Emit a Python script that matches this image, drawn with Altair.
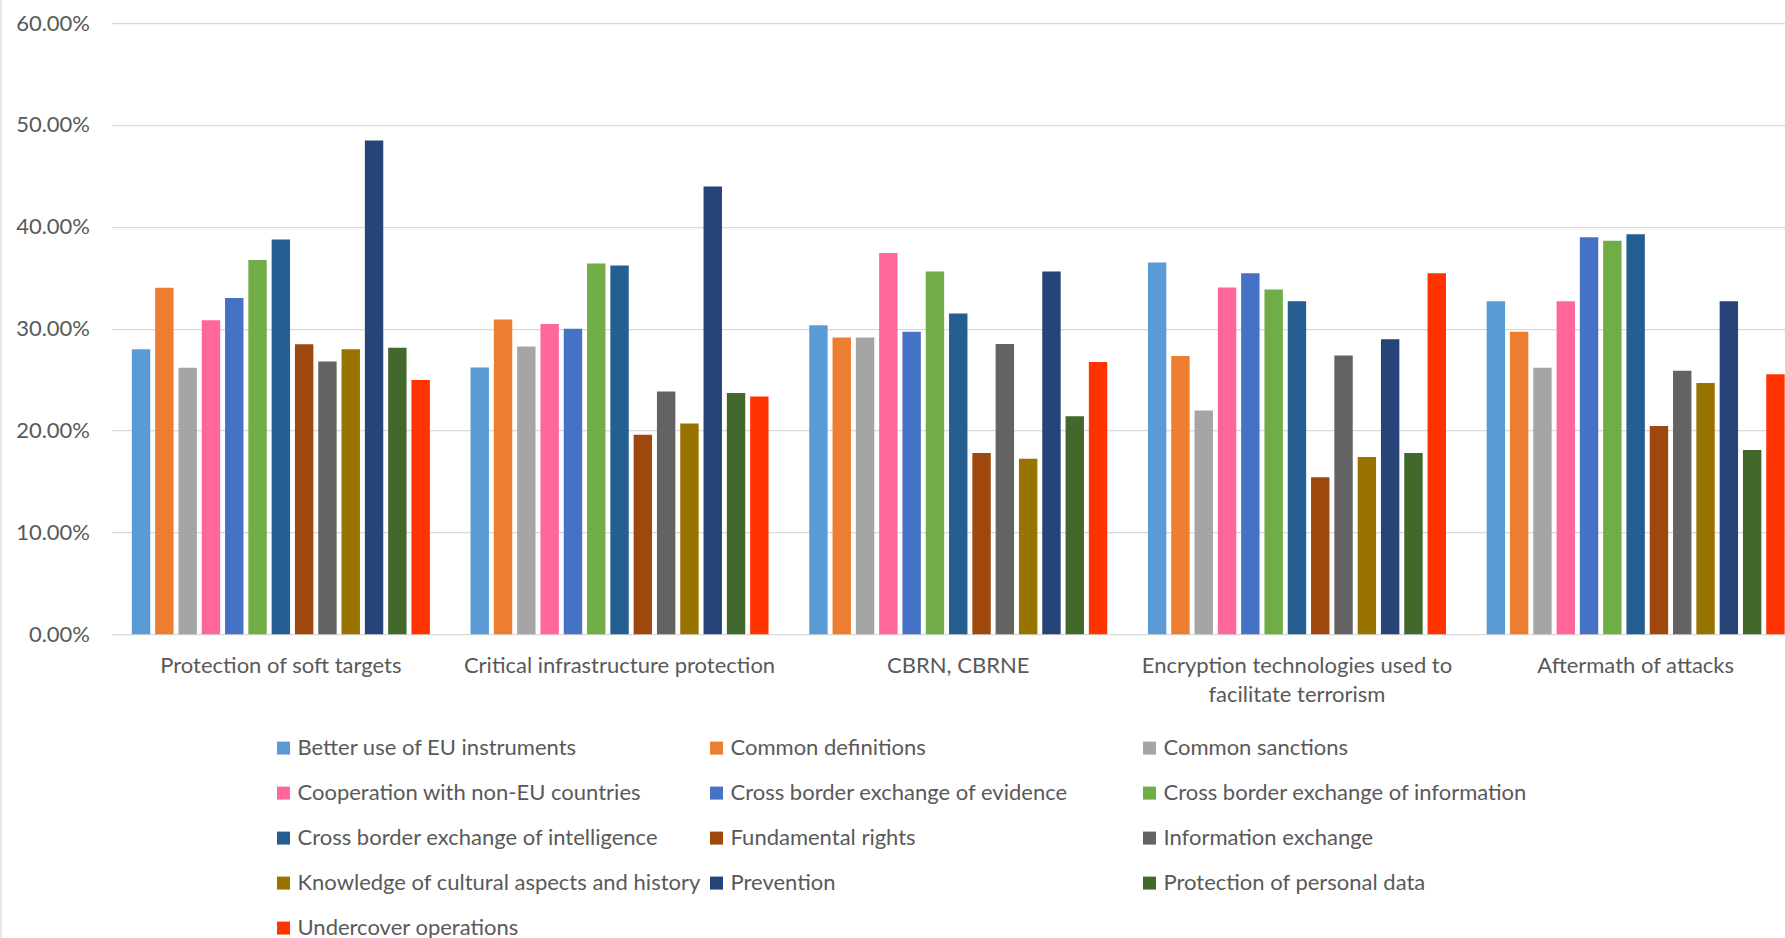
import altair as alt
import pandas as pd

# Areas of concern (x-axis groups)
categories = [
    "Protection of soft targets",
    "Critical infrastructure protection",
    "CBRN, CBRNE",
    "Encryption technologies used to facilitate terrorism",
    "Aftermath of attacks",
]

# Response options (one bar per option inside each group)
series = [
    "Better use of EU instruments",
    "Common definitions",
    "Common sanctions",
    "Cooperation with non-EU countries",
    "Cross border exchange of evidence",
    "Cross border exchange of information",
    "Cross border exchange of intelligence",
    "Fundamental rights",
    "Information exchange",
    "Knowledge of cultural aspects and history",
    "Prevention",
    "Protection of personal data",
    "Undercover operations",
]

colors = [
    "#5B9BD5", "#ED7D31", "#A5A5A5", "#FF6699", "#4472C4", "#70AD47",
    "#255E91", "#9E480E", "#636363", "#997300", "#264478", "#43682B",
    "#FF3300",
]

# Share of respondents (percent), in the order of `series`
soft_targets = [27.98, 34.01, 26.16, 30.83, 33.02, 36.74, 38.76, 28.47, 26.78, 27.98, 48.47, 28.14, 24.96]
critical_infra = [26.20, 30.91, 28.26, 30.45, 30.00, 36.40, 36.20, 19.59, 23.84, 20.70, 43.97, 23.68, 23.35]
cbrn = [30.33, 29.13, 29.13, 37.44, 29.71, 35.62, 31.49, 17.81, 28.51, 17.23, 35.62, 21.40, 26.74]
encryption = [36.49, 27.31, 21.98, 34.05, 35.45, 33.84, 32.69, 15.41, 27.36, 17.40, 28.97, 17.81, 35.45]
aftermath = [32.69, 29.71, 26.16, 32.69, 38.97, 38.64, 39.26, 20.45, 25.87, 24.67, 32.69, 18.10, 25.54]

y_ticks = [0, 0.1, 0.2, 0.3, 0.4, 0.5, 0.6]

groups = [soft_targets, critical_infra, cbrn, encryption, aftermath]
rows = []
for cat, vals in zip(categories, groups):
    for s, v in zip(series, vals):
        rows.append({"category": cat, "series": s, "value": v / 100.0})
df = pd.DataFrame(rows)

FONT = "Lato"
TEXT = "#595959"
GRID = "#D9D9D9"

label_expr = (
    "datum.value == 'Encryption technologies used to facilitate terrorism'"
    " ? ['Encryption technologies used to', 'facilitate terrorism'] : datum.label"
)

bars = alt.Chart(df).mark_bar().encode(
    x=alt.X(
        "category:N",
        sort=categories,
        scale=alt.Scale(range=[0, 1693.5], paddingInner=0, paddingOuter=0),
        axis=alt.Axis(
            title=None, labelAngle=0, domain=False, ticks=False, grid=False,
            labelExpr=label_expr, labelLimit=500, labelPadding=21.5,
            labelLineHeight=29, labelFontSize=22, labelFont=FONT,
            labelColor=TEXT,
        ),
    ),
    xOffset=alt.XOffset(
        "series:N", sort=series,
        scale=alt.Scale(paddingInner=0.21, paddingOuter=0.873),
    ),
    y=alt.Y(
        "value:Q",
        scale=alt.Scale(domain=[0, 0.6], nice=False),
        axis=alt.Axis(
            title=None, format=".2%", values=y_ticks, domain=False, ticks=False,
            grid=True, gridColor=GRID, gridWidth=1.3, labelPadding=22,
            labelFontSize=22, labelFont=FONT, labelColor=TEXT,
        ),
    ),
    color=alt.Color(
        "series:N",
        sort=series,
        scale=alt.Scale(domain=series, range=colors),
        legend=alt.Legend(
            title=None, orient="none", legendX=161, legendY=714,
            direction="horizontal", columns=3, gridAlign="all",
            symbolType="square", symbolSize=169, symbolStrokeWidth=0,
            labelFontSize=22, labelFont=FONT, labelColor=TEXT, labelOffset=3,
            labelLimit=600, rowPadding=23, columnPadding=4, padding=0,
        ),
    ),
)

# thin frame line along the left edge of the chart area
frame = alt.Chart(pd.DataFrame({"k": [0]})).mark_rule(
    color=GRID, strokeWidth=1.3
).encode(
    x=alt.value(-110.5), y=alt.value(-23.1), y2=alt.value(915)
)

chart = alt.layer(bars, frame).properties(
    width=1673.5,
    height=611.2,
    autosize=alt.AutoSizeParams(type="none"),
    padding={"left": 111.5, "top": 23.1, "right": 0, "bottom": 303.7},
    background="white",
).configure_view(stroke="transparent")

chart.save("out.html", embed_options={"renderer": "svg", "actions": False})
